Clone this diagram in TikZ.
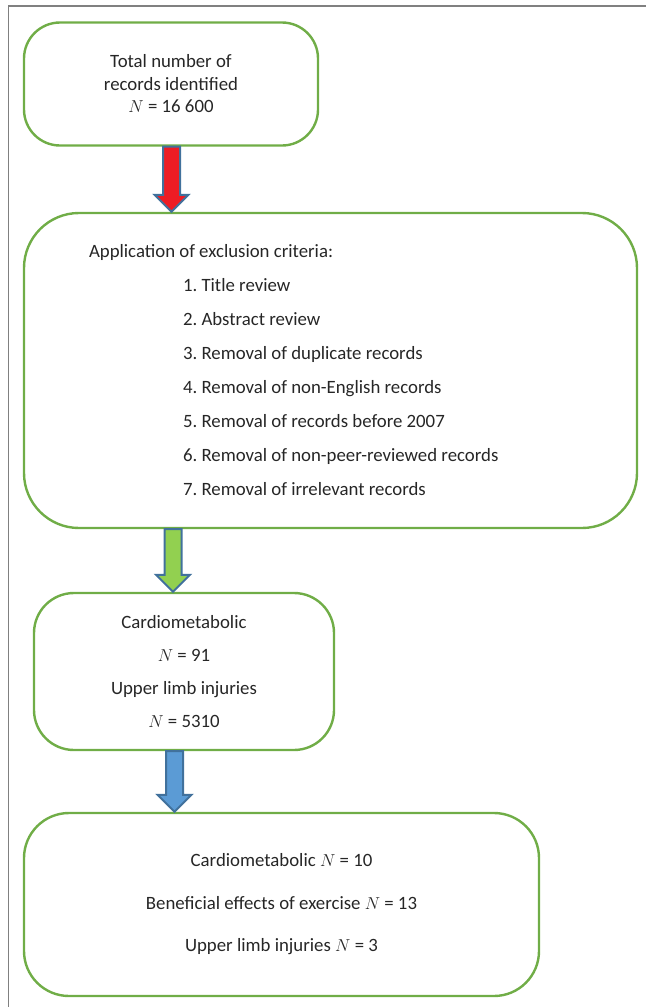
\documentclass[tikz,border=0pt]{standalone}
\usepackage{fontspec}
\setmainfont{Carlito}
\usepackage{tikz}
\usetikzlibrary{calc,positioning}

\definecolor{boxgreen}{HTML}{70AD47}
\definecolor{arrowedge}{HTML}{41719C}
\definecolor{arrowred}{HTML}{ED1C24}
\definecolor{arrowgreen}{HTML}{92D050}
\definecolor{arrowblue}{HTML}{5B9BD5}

% block arrow between two boxes, along the vertical line through #4
\newcommand{\flowarrow}[4]{%
	\draw[#1] let \p1=(#2.south -| #4), \p2=(#3.north -| #4) in
		(\x1-8.5pt,\y1) -- (\x1+8.5pt,\y1) -- (\x1+8.5pt,\y2+17pt) -- (\x1+17pt,\y2+17pt)
		-- (\x1,\y2) -- (\x1-17pt,\y2+17pt) -- (\x1-8.5pt,\y2+17pt) -- cycle;
}

\begin{document}
\begin{tikzpicture}[x=1pt, y=-1pt, every node/.style = {shape=rectangle, draw=boxgreen, line width=2.4pt, align=center, text=black!85}]
			\tikzset{ stage/.style = { rounded corners=#1, font=\fontsize{18.8}{22.5}\selectfont\frenchspacing } }
			\tikzset{ blockarrow/.style = { draw=arrowedge, line width=2pt, line join=miter, fill=#1 } }

			\useasboundingbox (0,0) rectangle (646,1007);
			\draw[gray, line width=1.5pt] (8.5,1007) -- (8.5,6) -- (646,6);

			\node [stage=36pt, minimum width=294pt, minimum height=123pt] (total) at (171,84)
				{Total number of\\records identified\\$N$ = 16 600};

			\node [stage=55pt, minimum width=613pt, minimum height=315pt, text width=483pt, inner xsep=65pt, align=flush left,
				font=\fontsize{18.8}{34}\selectfont\frenchspacing] (criteria) at (330.5,370.5)
				{Application of exclusion criteria:\\
				\hspace*{94pt}1. Title review\\
				\hspace*{94pt}2. Abstract review\\
				\hspace*{94pt}3. Removal of duplicate records\\
				\hspace*{94pt}4. Removal of non-English records\\
				\hspace*{94pt}5. Removal of records before 2007\\
				\hspace*{94pt}6. Removal of non-peer-reviewed records\\
				\hspace*{94pt}7. Removal of irrelevant records};

			\node [stage=40pt, minimum width=300pt, minimum height=157pt, font=\fontsize{18.8}{33}\selectfont] (screened) at (184,671.5)
				{Cardiometabolic\\$N$ = 91\\Upper limb injuries\\$N$ = 5310};

			\node [stage=45pt, minimum width=515pt, minimum height=183pt, font=\fontsize{18.8}{42.5}\selectfont] (included) at (281.5,904.5)
				{Cardiometabolic $N$ = 10\\Beneficial effects of exercise $N$ = 13\\Upper limb injuries $N$ = 3};

			\coordinate (axis1) at (171.5,0);
			\coordinate (axis2) at (173,0);
			\coordinate (axis3) at (174.5,0);

			\flowarrow{blockarrow=arrowred}{total}{criteria}{axis1}
			\flowarrow{blockarrow=arrowgreen}{criteria}{screened}{axis2}
			\flowarrow{blockarrow=arrowblue}{screened}{included}{axis3}
\end{tikzpicture}
\end{document}
